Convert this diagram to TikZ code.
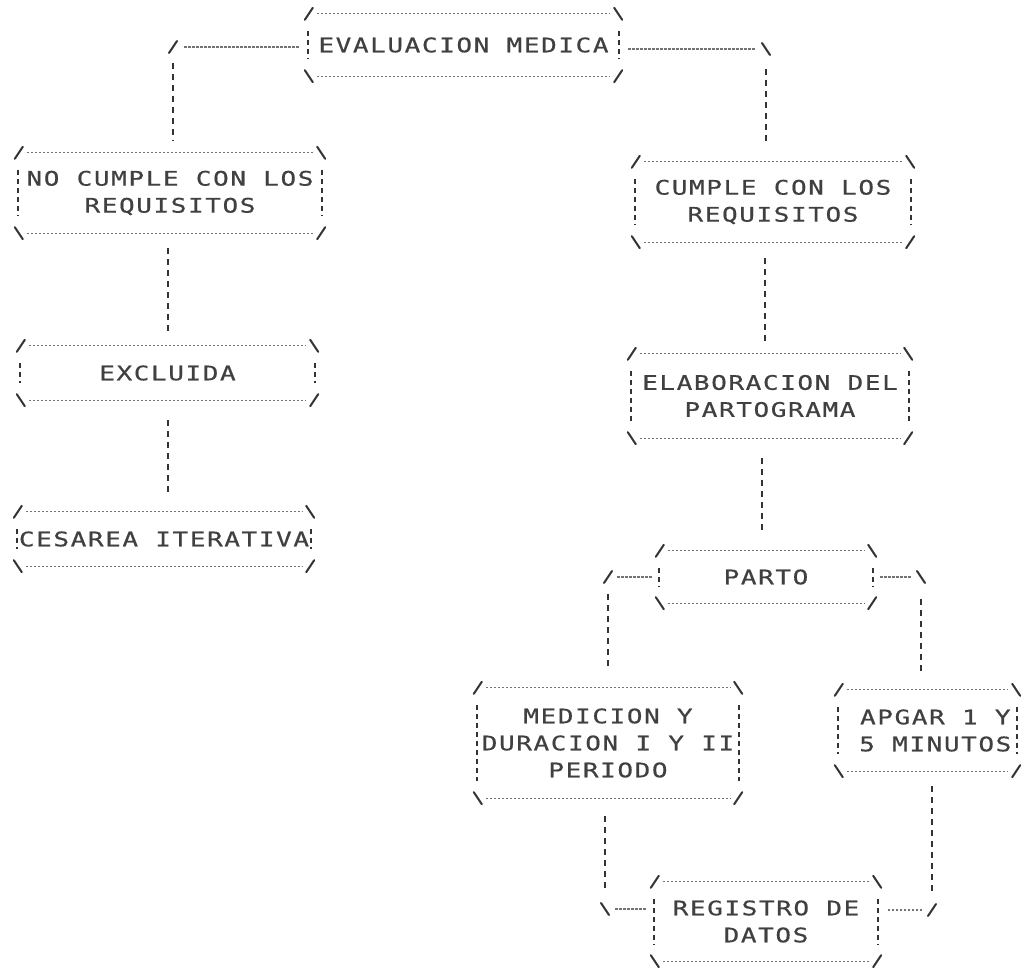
\documentclass[tikz,border=0pt]{standalone}
\usepackage{fontspec}
\newfontfamily\dotfont[FakeStretch=1.3,LetterSpace=8,FakeBold=0.6]{DejaVu Sans Mono}
\usetikzlibrary{calc}
\newcommand\asciiframe[1]{%
  \draw[corner] ($(#1.north west)+(0,6)$) -- ++(8,-12);
  \draw[edge] ($(#1.north west)+(12,0)$) -- ($(#1.north east)+(-12,0)$);
  \draw[corner] ($(#1.north east)+(-8,-6)$) -- ++(8,12);
  \draw[corner] ($(#1.south west)+(0,-6)$) -- ++(8,12);
  \draw[edge] ($(#1.south west)+(12,0)$) -- ($(#1.south east)+(-12,0)$);
  \draw[corner] ($(#1.south east)+(-8,6)$) -- ++(8,-12);
  \draw[side] ($(#1.north west)+(3,17)$) -- ($(#1.south west)+(3,-17)$);
  \draw[side] ($(#1.north east)+(-3,17)$) -- ($(#1.south east)+(-3,-17)$);
}
\begin{document}
\begin{tikzpicture}[x=1pt,y=-1pt,
  box/.style={inner sep=0pt, font=\dotfont\fontsize{20}{27}\selectfont, text=black!75, align=center},
  corner/.style={draw=black!80, line width=2pt, line cap=round},
  edge/.style={draw=black!55, line width=1.2pt, dash pattern=on 2.5pt off 1.5pt},
  side/.style={draw=black!80, line width=1.8pt, dash pattern=on 5pt off 4pt},
  vline/.style={draw=black!80, line width=2pt, dash pattern=on 6pt off 5pt}]
\fill[white] (0,0) rectangle (1026,975);
\useasboundingbox (0,0) rectangle (1026,975);

% boxes
\node[box, minimum width=317pt, minimum height=62pt] (eval) at (463.5,45) {EVALUACION MEDICA};
\node[box, minimum width=310pt, minimum height=80pt] (nocumple) at (170,193) {NO CUMPLE CON LOS\\REQUISITOS};
\node[box, minimum width=301pt, minimum height=54pt] (excluida) at (167.5,373) {EXCLUIDA};
\node[box, minimum width=300pt, minimum height=54pt] (cesarea) at (164,539) {CESAREA ITERATIVA};
\node[box, minimum width=282pt, minimum height=80pt] (cumple) at (773,202) {CUMPLE CON LOS\\REQUISITOS};
\node[box, minimum width=284pt, minimum height=84pt] (elab) at (770,396) {ELABORACION DEL\\PARTOGRAMA};
\node[box, minimum width=220pt, minimum height=52pt] (parto) at (766,577) {PARTO};
\node[box, minimum width=268pt, minimum height=110pt] (medicion) at (608,743) {MEDICION Y\\DURACION I Y II\\PERIODO};
\node[box, minimum width=185pt, minimum height=81pt] (apgar) at (927.5,730.5) {\hphantom{A}APGAR 1 Y\\\hphantom{A}5 MINUTOS};
\node[box, minimum width=230pt, minimum height=79pt] (registro) at (766,921.5) {REGISTRO DE\\DATOS};

\foreach \n in {eval,nocumple,excluida,cesarea,cumple,elab,parto,medicion,apgar,registro}{\asciiframe{\n}}

% bend points
\coordinate (b1) at (173,47);
\coordinate (b2) at (766,49);
\coordinate (b3) at (608,577);
\coordinate (b4) at (921,577);
\coordinate (b5) at (605,909);
\coordinate (b6) at (932,910);

% evaluacion -> no cumple
\draw[edge] ($(b1-|eval.west)+(-6,0)$) -- ($(b1)+(10,0)$);
\draw[corner] ($(b1)+(-4,6)$) -- ++(8,-12);
\draw[vline] ($(b1)+(0,16)$) -- ($(b1|-nocumple.north)+(0,-12)$);
% evaluacion -> cumple
\draw[edge] ($(b2-|eval.east)+(6,0)$) -- ($(b2)+(-10,0)$);
\draw[corner] ($(b2)+(-4,-6)$) -- ++(8,12);
\draw[vline] ($(b2)+(0,20)$) -- ($(b2|-cumple.north)+(0,-16)$);
% no cumple -> excluida -> cesarea
\draw[vline] ($(nocumple.south)+(-2,15)$) -- ($(nocumple.south|-excluida.north)+(-2,-11)$);
\draw[vline] ($(excluida.south)+(0,20)$) -- ($(excluida.south|-cesarea.north)+(0,-15)$);
% cumple -> elaboracion -> parto
\draw[vline] ($(cumple.south)+(-8,16)$) -- ($(cumple.south|-elab.north)+(-8,-12)$);
\draw[vline] ($(elab.south)+(-8,20)$) -- ($(elab.south|-parto.north)+(-8,-20)$);
% parto -> medicion
\draw[edge] ($(b3-|parto.west)+(-4,0)$) -- ($(b3)+(9,0)$);
\draw[corner] ($(b3)+(-4,6)$) -- ++(8,-12);
\draw[vline] ($(b3)+(0,17)$) -- ($(b3|-medicion.north)+(0,-17)$);
% parto -> apgar
\draw[edge] ($(b4-|parto.east)+(4,0)$) -- ($(b4)+(-9,0)$);
\draw[corner] ($(b4)+(-4,-6)$) -- ++(8,12);
\draw[vline] ($(b4)+(0,22)$) -- ($(b4|-apgar.north)+(0,-15)$);
% medicion -> registro
\draw[vline] ($(b5|-medicion.south)+(0,18)$) -- ($(b5)+(0,-18)$);
\draw[corner] ($(b5)+(-4,-6)$) -- ++(8,12);
\draw[edge] ($(b5)+(10,0)$) -- ($(b5-|registro.west)+(-5,0)$);
% apgar -> registro
\draw[vline] ($(b6|-apgar.south)+(0,15)$) -- ($(b6)+(0,-18)$);
\draw[corner] ($(b6)+(-4,6)$) -- ++(8,-12);
\draw[edge] ($(b6)+(-10,0)$) -- ($(b6-|registro.east)+(5,0)$);
\end{tikzpicture}
\end{document}
